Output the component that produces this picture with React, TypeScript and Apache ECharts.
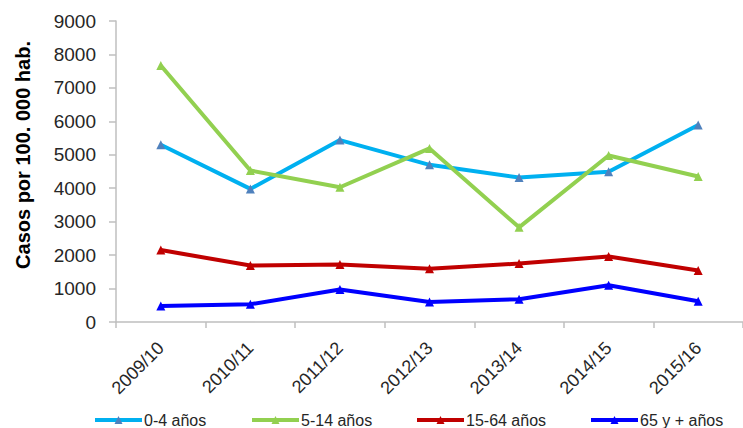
import React, { useEffect, useRef } from "react";
import * as echarts from "echarts";

const categories = ["2009/10", "2010/11", "2011/12", "2012/13", "2013/14", "2014/15", "2015/16"];
const seriesNames = ["0-4 años", "5-14 años", "15-64 años", "65 y + años"];
const age0to4 = [5300, 3980, 5440, 4700, 4320, 4490, 5890];
const age5to14 = [7670, 4530, 4030, 5190, 2830, 4980, 4350];
const age15to64 = [2150, 1690, 1720, 1590, 1750, 1960, 1540];
const age65plus = [480, 530, 970, 600, 680, 1100, 620];
const yTitle = "Casos por 100. 000 hab.";

const FONT = "'Liberation Sans', Arial, sans-serif";

export default function App() {
  const ref = useRef<HTMLDivElement>(null);
  useEffect(() => {
    if (!ref.current) return;
    const chart = echarts.init(ref.current, undefined, { renderer: "svg" });
    const lineColors = ["#00B0F0", "#92D050", "#C00000", "#0000FF"];
    const markerColors = ["#4F81BD", "#92D050", "#C00000", "#0000FF"];
    const data = [age0to4, age5to14, age15to64, age65plus];
    const legendLefts = [93, 250, 415, 589];
    chart.setOption({
      animation: false,
      textStyle: { fontFamily: FONT },
      grid: { left: 116, right: -7, top: 21, bottom: 106, containLabel: false },
      legend: seriesNames.map((n, i) => ({
        data: [n],
        left: legendLefts[i],
        top: 412,
        padding: 0,
        itemWidth: 47,
        itemHeight: 10,
        lineStyle: { width: 4 },
        textStyle: { fontFamily: FONT, fontSize: 16, color: "#262626", padding: [0, 0, 0, -3] },
      })),
      xAxis: {
        type: "category",
        data: categories,
        boundaryGap: true,
        axisLine: { lineStyle: { color: "#BFBFBF", width: 1.5 } },
        axisTick: { show: true, length: 6, lineStyle: { color: "#BFBFBF", width: 1.5 } },
        axisLabel: { rotate: 45, fontSize: 18, fontFamily: FONT, color: "#262626", margin: 23 },
        splitLine: { show: false },
      },
      yAxis: {
        type: "value",
        min: 0,
        max: 9000,
        interval: 1000,
        axisLine: { show: true, lineStyle: { color: "#BFBFBF", width: 1.5 } },
        axisTick: { show: true, length: 7, lineStyle: { color: "#BFBFBF", width: 1.5 } },
        axisLabel: {
          fontSize: 19,
          fontFamily: FONT,
          color: "#262626",
          margin: 20,
          formatter: (v: number) => String(v),
        },
        splitLine: { show: false },
      },
      graphic: [
        {
          type: "text",
          x: 23,
          y: 155,
          rotation: Math.PI / 2,
          style: {
            text: yTitle,
            fontFamily: FONT,
            fontSize: 20,
            fontWeight: "bold",
            fill: "#000",
            textAlign: "center",
            textVerticalAlign: "middle",
          },
        },
      ],
      series: seriesNames.map((n, i) => ({
        name: n,
        type: "line",
        data: data[i],
        symbol: "triangle",
        symbolSize: 9,
        lineStyle: { color: lineColors[i], width: 4 },
        itemStyle: { color: markerColors[i] },
      })),
    });
    return () => chart.dispose();
  }, []);
  return <div ref={ref} style={{ position: "fixed", left: 0, top: 0, width: 743, height: 428, background: "#fff" }} />;
}
